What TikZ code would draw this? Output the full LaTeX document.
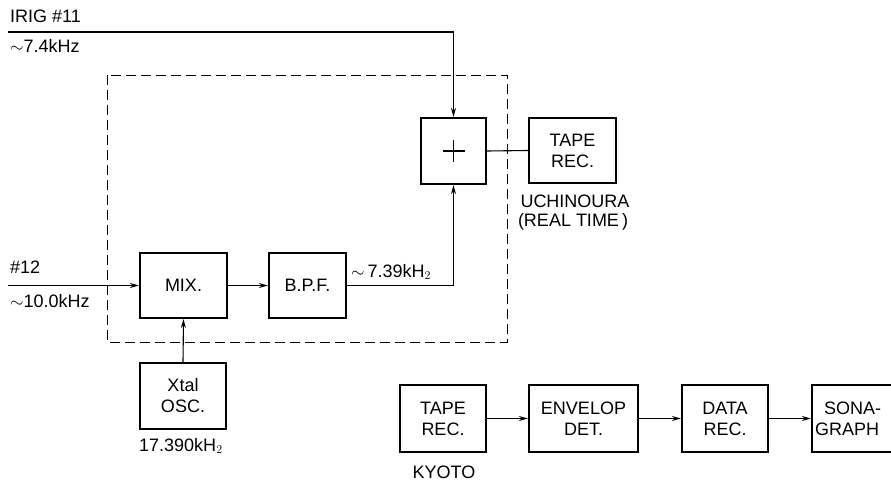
\documentclass[tikz,border=0pt]{standalone}
\usepackage{fontspec}
\setmainfont{Liberation Sans}
\usetikzlibrary{arrows.meta}
\begin{document}
\begin{tikzpicture}[x=1pt,y=-1pt,
  every node/.style={font=\fontsize{18}{21}\selectfont},
  blk/.style={draw, line width=2.2pt, inner sep=0pt, align=center},
  conn/.style={line width=1.1pt},
  arr/.style={conn, -{Stealth[length=9pt,width=5pt]}},
  lbl/.style={inner sep=0pt, anchor=west},
  region/.style={line width=0.8pt, dash pattern=on 10pt off 5pt}
]
\useasboundingbox (0,0) rectangle (891,484);

% dashed enclosure
\draw[region] (107,75) rectangle (507,342);

% blocks
\node[blk, minimum width=65pt, minimum height=66pt] (plus) at (453.5,151) {};
\draw[conn] ([xshift=-11pt]plus.center) -- ([xshift=11pt]plus.center)
            ([yshift=-11pt]plus.center) -- ([yshift=11pt]plus.center);
\node[blk, minimum width=87pt, minimum height=65pt] (tape1) at (572.5,150.5) {TAPE\\REC.};
\node[blk, minimum width=87pt, minimum height=65pt] (mix) at (183.5,285.5) {MIX.};
\node[blk, minimum width=77pt, minimum height=65pt] (bpf) at (307.5,285.5) {B.P.F.};
\node[blk, minimum width=86pt, minimum height=66pt] (xtal) at (183,396) {Xtal\\OSC.};

\node[blk, minimum width=86pt, minimum height=67pt] (tape2) at (443,418.5) {TAPE\\REC.};
\node[blk, minimum width=109pt, minimum height=67pt] (env) at (583.5,418.5) {ENVELOP\\DET.};
\node[blk, minimum width=86pt, minimum height=67pt] (data) at (725,418.5) {DATA\\REC.};
\node[blk, minimum width=86pt, minimum height=67pt, text width=80pt, align=left] (sona) at (855,418.5) {\hspace*{9pt}SONA-\\GRAPH};

% labels
\node[lbl] (lirig) at (10,16) {IRIG \#11};
\node[lbl] (l74) at (10,46) {$\sim$7.4kHz};
\node[lbl] (l12) at (10,267) {\#12};
\node[lbl] (l10) at (10,301) {$\sim$10.0kHz};
\node[lbl] (l739) at (351,272) {$\sim$\,7.39kH$_2$};
\node[lbl] (l17) at (139,446) {17.390kH$_2$};
\node (luchi) at (575,201) {UCHINOURA};
\node (lreal) at (573,222) {(REAL TIME\,)};
\node (lkyoto) at (444,472) {KYOTO};

% connectors
\coordinate (irig) at (8,32);
\coordinate (in12) at (8,285.5);
\draw[arr] (irig) -| (plus.north);
\draw[arr] (in12) -- (mix.west);
\draw[arr] (mix.east) -- (bpf.west);
\draw[arr] (bpf.east) -| (plus.south);
\draw[arr] (xtal.north) -- (mix.south);
\draw[conn] (plus.east) -- (tape1.west);

\draw[arr] (tape2.east) -- (env.west);
\draw[arr] (env.east) -- (data.west);
\draw[arr] (data.east) -- (sona.west);
\end{tikzpicture}
\end{document}
